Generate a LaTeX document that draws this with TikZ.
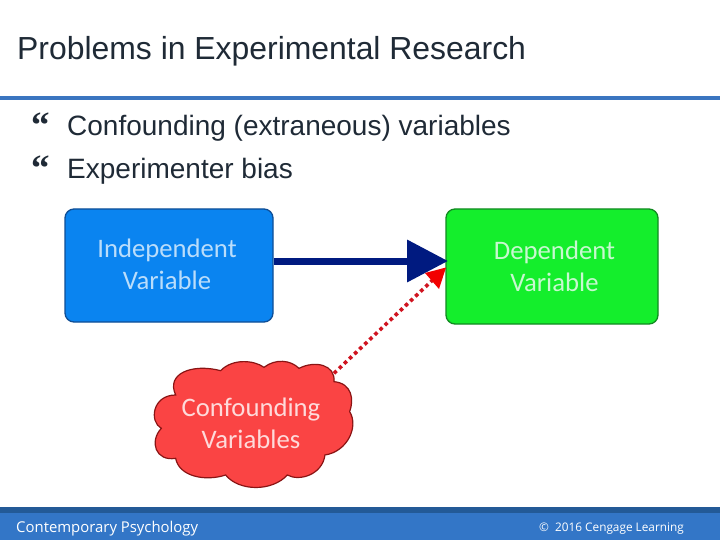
\documentclass[tikz,border=0pt]{standalone}
\usepackage{fontspec}
\setmainfont{Liberation Sans}
\newfontfamily\boxfont{Carlito}
\newfontfamily\footfont{Open Sans}
\newfontfamily\bulfont{Liberation Serif}
\usetikzlibrary{arrows.meta}
\definecolor{inkc}{HTML}{1F2A36}
\definecolor{barc}{HTML}{3A75C0}
\definecolor{footc}{HTML}{3376C7}
\definecolor{footd}{HTML}{235A97}
\definecolor{bluef}{HTML}{0A84F0}
\definecolor{blued}{HTML}{0F4E96}
\definecolor{greenf}{HTML}{14EE2C}
\definecolor{greend}{HTML}{128A22}
\definecolor{redf}{HTML}{FA4444}
\definecolor{redd}{HTML}{8A1414}
\definecolor{navyc}{HTML}{001A80}
\definecolor{dotc}{HTML}{D01420}
\definecolor{labw}{HTML}{C8F8D0}
\tikzset{
  x=1pt,y=-1pt,
  titletext/.style={anchor=base west,inner sep=0pt,text=inkc,font=\fontsize{31.9}{34}\selectfont},
  bodytext/.style={anchor=base west,inner sep=0pt,text=inkc,font=\fontsize{28}{30}\selectfont},
  bullettext/.style={anchor=base west,inner sep=0pt,text=inkc,font=\bulfont\bfseries\fontsize{37}{37}\selectfont},
  foottext/.style={anchor=base west,inner sep=0pt,text=white,font=\footfont\fontsize{14.9}{18}\selectfont},
  stepbox/.style={rounded corners=9pt,line width=1.3pt,inner sep=0pt},
  boxlabel/.style={align=center,text=labw,font=\boxfont\fontsize{26.7}{32.5}\selectfont,inner sep=0pt},
}
\begin{document}
\begin{tikzpicture}
\useasboundingbox (0,0) rectangle (720,540);
\fill[white] (0,0) rectangle (720,540);
\node[titletext] (title) at (17,60) {Problems in Experimental Research};
\fill[barc] (0,96) rectangle (720,100);
\node[bullettext] (b1) at (31,138) {“};
\node[bullettext] (b2) at (31,181) {“};
\node[bodytext] (t1) at (67,136) {Confounding (extraneous) variables};
\node[bodytext] (t2) at (67,179) {Experimenter bias};

\node[stepbox,draw=blued,fill=bluef,minimum width=208pt,minimum height=113pt] (iv) at (169,265.5) {};
\node[boxlabel,text=white!72!bluef] (ivl) at (167,264.5) {Independent\\Variable};
\node[stepbox,draw=greend,fill=greenf,minimum width=212pt,minimum height=115pt] (dv) at (552,266.5) {};
\node[boxlabel] (dvl) at (554.5,266.5) {Dependent\\Variable};

\begin{scope}[shift={(139,350)},x=0.3333pt,y=-0.3333pt]
\draw[fill=redf,draw=redd,line width=1.2pt]
  (110,135) .. controls (80,70) and (160,40) .. (245,62)
  .. controls (280,25) and (345,30) .. (375,52)
  .. controls (410,25) and (455,30) .. (480,55)
  .. controls (530,30) and (590,45) .. (585,95)
  .. controls (640,100) and (645,150) .. (632,185)
  .. controls (660,230) and (625,305) .. (558,315)
  .. controls (550,375) and (480,395) .. (445,375)
  .. controls (400,425) and (300,425) .. (260,375)
  .. controls (200,395) and (120,380) .. (110,325)
  .. controls (50,335) and (30,275) .. (67,235)
  .. controls (30,215) and (40,135) .. (110,135) -- cycle;
\coordinate (cloudtip) at (585,70);
\end{scope}
\node[boxlabel,text=white!80!redf] (cv) at (251,423.5) {Confounding\\Variables};

\draw[navyc,line width=7pt,-{Triangle[length=41pt,width=41pt]}] (iv.east |- 0,261) -- (448,261);
\coordinate (dvin) at (dv.west |- 0,268);
\draw[dotc,line width=3.6pt,dash pattern=on 3.6pt off 3.4pt,shorten >=16pt] (cloudtip) -- (dvin);
\fill[red!95!black] (446,267.5) -- (425,273) -- (439,289) -- cycle;

\fill[footd] (0,507) rectangle (720,513);
\fill[footc] (0,513) rectangle (720,540);
\node[foottext] (f1) at (16,532) {Contemporary Psychology};
\node[foottext,font=\footfont\fontsize{11.8}{15}\selectfont] (f2) at (539,531) {©\ \ 2016 Cengage Learning};
\end{tikzpicture}
\end{document}
